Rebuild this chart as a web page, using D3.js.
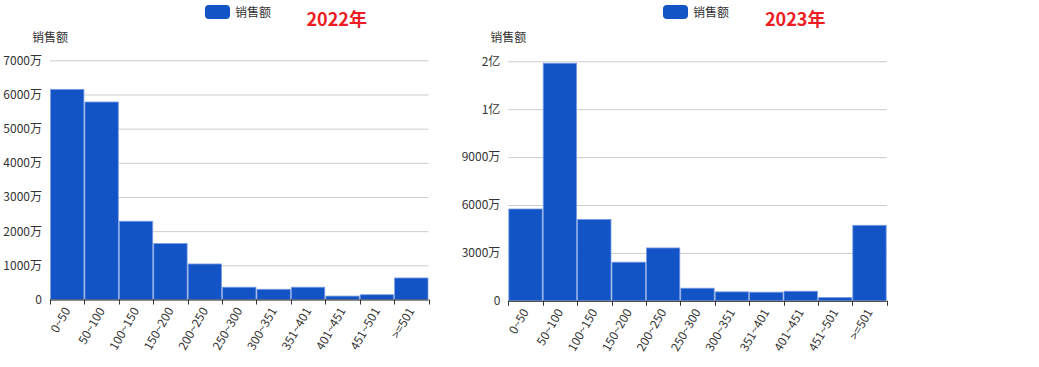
<!DOCTYPE html>
<html><head><meta charset="utf-8">
<script src="https://cdn.jsdelivr.net/npm/d3@7"></script>
<style>
html,body{margin:0;padding:0;background:#fff;}
svg{display:block;font-family:"Microsoft YaHei","Noto Sans CJK SC",sans-serif;}
</style></head>
<body>
<svg id="c" width="1039" height="367"></svg>
<script>
const categories = ["0~50","50~100","100~150","150~200","200~250","250~300","300~351","351~401","401~451","451~501",">=501"];
// sales in 万 (10,000 yuan)
const sales2022 = [6150, 5780, 2290, 1640, 1040, 360, 300, 360, 100, 140, 630];
const sales2023 = [5750, 14880, 5100, 2420, 3310, 790, 560, 540, 600, 210, 4730];
const ticks2022 = [0, 1000, 2000, 3000, 4000, 5000, 6000, 7000];
const ticks2023 = [0, 3000, 6000, 9000, 12000, 15000];
const titles = ["2022年", "2023年"];
const legendName = "销售额";
const yName = "销售额";

const svg = d3.select("#c");
const fmt = v => v === 0 ? "0" : (v >= 10000 ? (v/10000).toFixed(0) + "亿" : v + "万");

function drawChart(cfg){
  const {x0, x1, yTop, yBot, data, ticks, title, legX, titleX} = cfg;
  const g = svg.append("g");
  const x = d3.scaleBand().domain(categories).range([x0, x1]).padding(0);
  const y = d3.scaleLinear().domain([0, d3.max(ticks)]).range([yBot, yTop]);

  // grid + y labels
  const ya = d3.axisLeft(y).tickValues(ticks).tickSize(-(x1 - x0)).tickPadding(8).tickFormat(fmt);
  const yg = g.append("g").attr("transform", `translate(${x0},0)`).call(ya);
  yg.select(".domain").remove();
  yg.selectAll(".tick line").attr("stroke", "#ccc");
  yg.selectAll(".tick text").attr("fill", "#333").attr("font-size", 12)
    .attr("font-family", '"Microsoft YaHei","Noto Sans CJK SC",sans-serif');

  // bars
  g.append("g").selectAll("rect").data(data).join("rect")
    .attr("x", (d, i) => x(categories[i]) + 0.5)
    .attr("y", d => y(d))
    .attr("width", x.bandwidth() - 1)
    .attr("height", d => y(0) - y(d))
    .attr("fill", "#1254c6")
    .attr("stroke", "#7c9ee4")
    .attr("stroke-width", 0.8);

  // x axis line + boundary ticks
  const xa = d3.axisBottom(x).tickSize(0).tickPadding(0);
  const xg = g.append("g").attr("transform", `translate(0,${yBot})`).call(xa);
  xg.select(".domain").attr("stroke", "#333").attr("d", `M${x0},0.5H${x1}`);
  xg.selectAll(".tick line").remove();
  xg.selectAll(".tick text")
    .attr("fill", "#333").attr("font-size", 12)
    .attr("font-family", '"Microsoft YaHei","Noto Sans CJK SC",sans-serif')
    .attr("text-anchor", "end")
    .attr("dy", "0.35em")
    .attr("transform", "translate(0,9) rotate(-60)");
  const bounds = categories.map(c => x(c)).concat([x1]);
  xg.append("g").selectAll("line").data(bounds).join("line")
    .attr("x1", d => Math.round(d) + 0.5).attr("x2", d => Math.round(d) + 0.5)
    .attr("y1", 0).attr("y2", 5).attr("stroke", "#333");

  // y axis name
  g.append("text").attr("x", x0).attr("y", 42).attr("text-anchor", "middle")
    .attr("font-size", 12).attr("fill", "#333").text(yName);

  // legend
  g.append("rect").attr("x", legX).attr("y", 5).attr("width", 25).attr("height", 14)
    .attr("rx", 4).attr("fill", "#1254c6");
  g.append("text").attr("x", legX + 30).attr("y", 16.5).attr("font-size", 12)
    .attr("fill", "#333").text(legendName);

  // title
  g.append("text").attr("x", titleX).attr("y", 25.5).attr("font-size", 18)
    .attr("font-weight", "bold").attr("fill", "#ed1c24").text(title);
}

drawChart({x0: 50, x1: 428.5, yTop: 60.3, yBot: 299.5, data: sales2022, ticks: ticks2022, title: titles[0], legX: 205, titleX: 306.5});
drawChart({x0: 508.3, x1: 886.7, yTop: 61.3, yBot: 300.8, data: sales2023, ticks: ticks2023, title: titles[1], legX: 663, titleX: 765});
</script>
</body></html>
